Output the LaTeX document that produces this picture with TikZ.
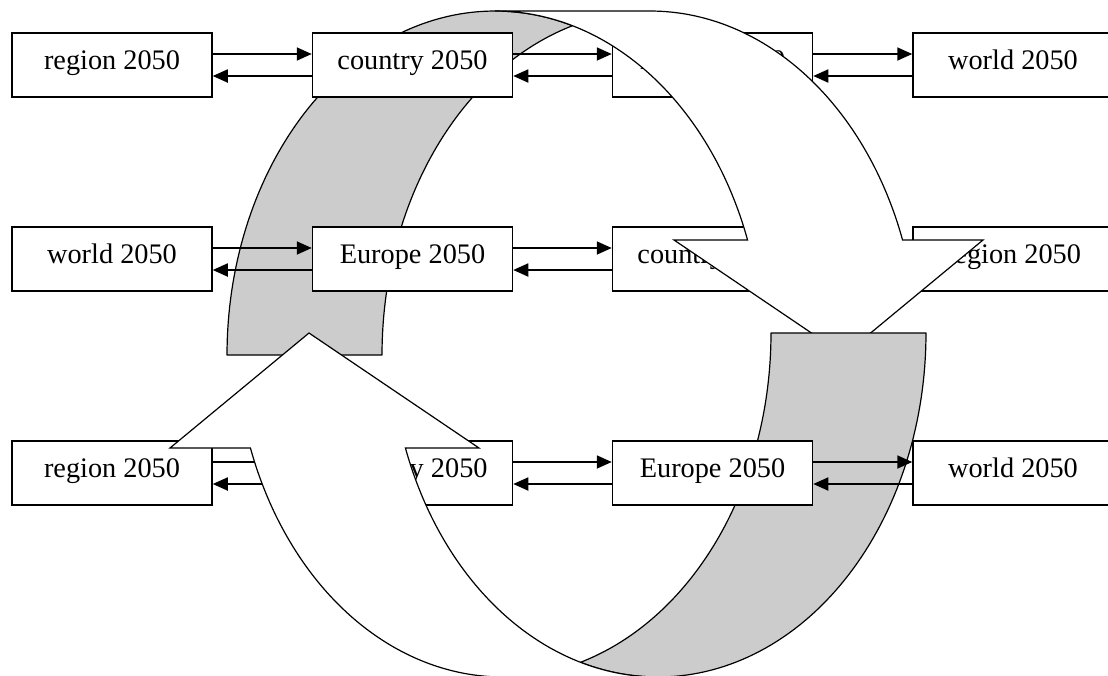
\documentclass[tikz,border=0pt]{standalone}
\usepackage{fontspec}
\setmainfont{Liberation Serif}
\usetikzlibrary{arrows.meta}
\tikzset{
  box/.style={draw, line width=1.5pt, fill=white, minimum width=200pt, minimum height=64pt,
    inner sep=0pt, text height=20pt, text depth=12pt, font=\fontsize{28.3}{34}\selectfont},
  conn/.style={line width=1.8pt, -{Triangle[length=15pt,width=13pt]}},
  ribbonback/.style={fill=black!20, draw=black, line width=1.2pt, line join=round},
  ribbonfront/.style={fill=white, draw=black, line width=1.2pt, line join=miter},
}
\newcommand\pairarrows[2]{%
  \draw[conn] ([yshift=11pt]#1.east) -- ([yshift=11pt]#2.west);
  \draw[conn] ([yshift=-11pt]#2.west) -- ([yshift=-11pt]#1.east);}
\newcommand\ribbonbackpath{%
  (227,355) -- plot[domain=180:286.81, samples=80, variable=\t] ({495+268*cos(\t)},{355+344*sin(\t)})
  -- plot[domain=253.19:180, samples=80, variable=\t] ({650+268*cos(\t)},{355+344*sin(\t)}) -- cycle}
\newcommand\ribbonfrontpath{%
  (495,11) -- plot[domain=270:340.47, samples=80, variable=\t] ({495+268*cos(\t)},{355+344*sin(\t)})
  -- (674,240) -- (844,355) -- (983,240)
  -- plot[domain=340.47:270, samples=80, variable=\t] ({650+268*cos(\t)},{355+344*sin(\t)}) -- cycle}
\begin{document}
\begin{tikzpicture}[x=1pt, y=-1pt]
\useasboundingbox (0,0) rectangle (1108,675);
\clip (0,0) rectangle (1108,675);
% back of the upper ribbon
\filldraw[ribbonback] \ribbonbackpath;
% rows 1 and 2
\node[box] (a1) at (112,65) {region 2050};
\node[box] (a2) at (412.5,65) {country 2050};
\node[box] (a3) at (712.5,65) {Europe 2050};
\node[box] (a4) at (1013,65) {world 2050};
\node[box] (b1) at (112,259) {world 2050};
\node[box] (b2) at (412.5,259) {Europe 2050};
\node[box] (b3) at (712.5,259) {country 2050};
\node[box] (b4) at (1013,259) {region 2050};
\pairarrows{a1}{a2}
\pairarrows{a2}{a3}
\pairarrows{a3}{a4}
\pairarrows{b1}{b2}
\pairarrows{b2}{b3}
\pairarrows{b3}{b4}
% front of the upper ribbon
\filldraw[ribbonfront] \ribbonfrontpath;
% back of the lower ribbon
\begin{scope}[rotate around={180:(576.5,344)}]
\filldraw[ribbonback] \ribbonbackpath;
\end{scope}
% row 3
\node[box] (c1) at (112,473) {region 2050};
\node[box] (c2) at (412.5,473) {country 2050};
\node[box] (c3) at (712.5,473) {Europe 2050};
\node[box] (c4) at (1013,473) {world 2050};
\pairarrows{c1}{c2}
\pairarrows{c2}{c3}
\pairarrows{c3}{c4}
% front of the lower ribbon
\begin{scope}[rotate around={180:(576.5,344)}]
\filldraw[ribbonfront] \ribbonfrontpath;
\end{scope}
\end{tikzpicture}
\end{document}
